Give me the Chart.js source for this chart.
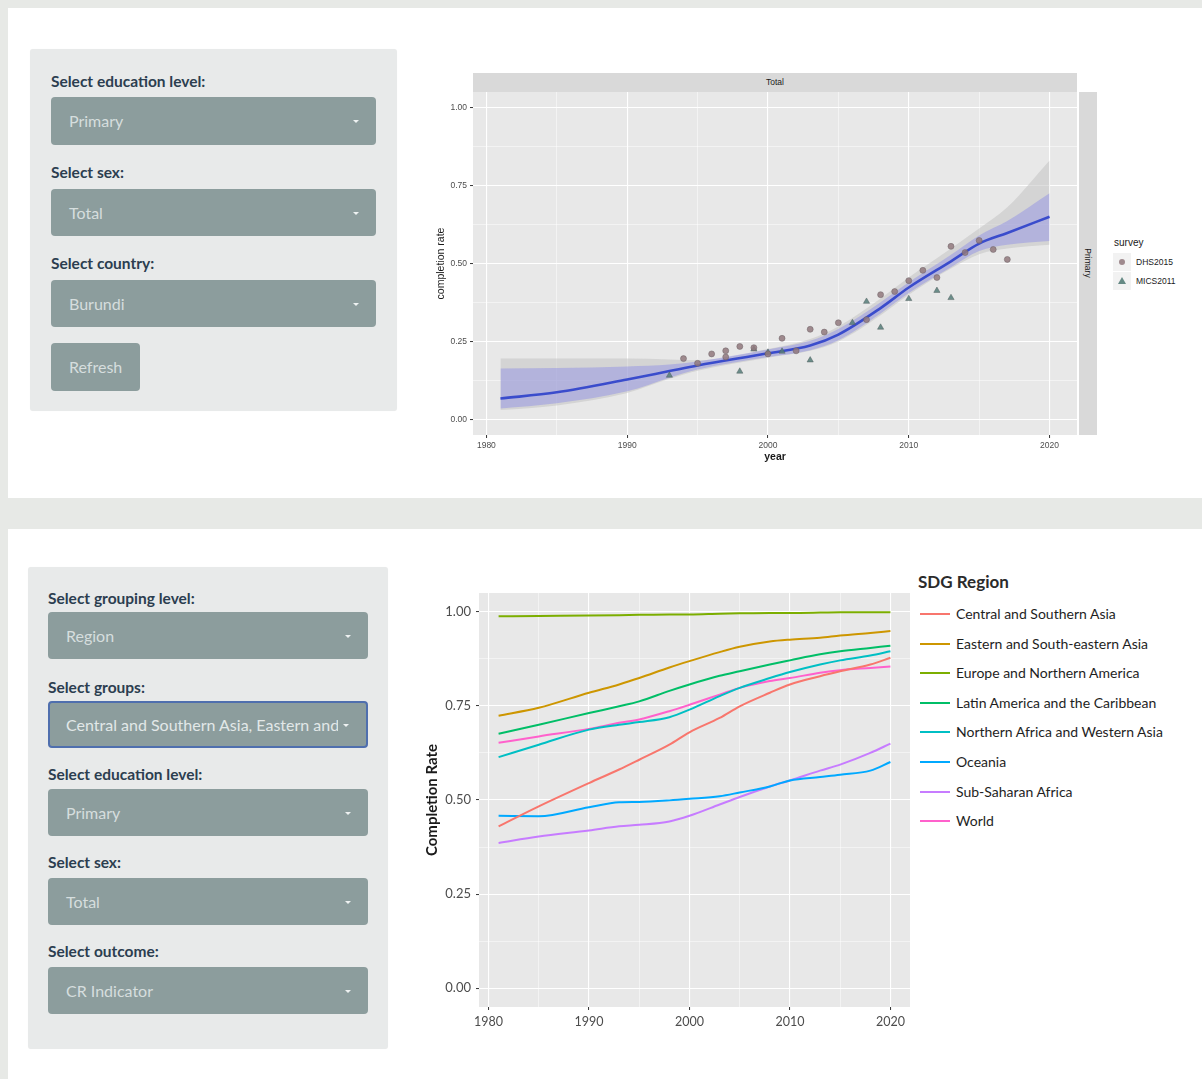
<!DOCTYPE html>
<html><head><meta charset="utf-8">
<script src="https://cdn.jsdelivr.net/npm/chart.js@4.4.1/dist/chart.umd.min.js"></script>
<style>
html,body{margin:0;padding:0;}
body{width:1202px;height:1079px;background:#e7e9e6;position:relative;overflow:hidden;font-family:Lato,"Open Sans",sans-serif;}
.panel{position:absolute;background:#fff;}
.well{position:absolute;background:#e8eaea;border-radius:3px;box-shadow:0 0 1px rgba(0,0,0,0.05);}
.lbl{position:absolute;font-weight:700;font-size:15.5px;color:#2c3e50;letter-spacing:0px;line-height:18px;white-space:nowrap;}
.sel{position:absolute;background:#8c9d9d;border-radius:4px;color:#d6dede;font-size:16px;padding-left:18px;box-sizing:border-box;white-space:nowrap;overflow:hidden;}
.caret{position:absolute;right:17px;top:50%;width:0;height:0;border-left:3px solid transparent;border-right:3px solid transparent;border-top:3px solid #eef2f2;margin-top:-1px;}
.gg{position:absolute;font-family:"Liberation Sans",Arial,sans-serif;color:#1a1a1a;white-space:nowrap;}
canvas{position:absolute;}
</style>
</head>
<body>
<div class="panel" style="left:8px;top:8px;width:1194px;height:490px;"></div>
<div class="panel" style="left:8px;top:529px;width:1194px;height:550px;"></div>

<!-- top controls -->
<div class="well" style="left:30px;top:49px;width:367px;height:362px;"></div>
<div class="lbl" style="left:51px;top:72px;">Select education level:</div>
<div class="sel" style="left:51px;top:97px;width:325px;height:48px;line-height:48px;">Primary<span class="caret"></span></div>
<div class="lbl" style="left:51px;top:163px;">Select sex:</div>
<div class="sel" style="left:51px;top:189px;width:325px;height:47px;line-height:47px;">Total<span class="caret"></span></div>
<div class="lbl" style="left:51px;top:254px;">Select country:</div>
<div class="sel" style="left:51px;top:280px;width:325px;height:47px;line-height:47px;">Burundi<span class="caret"></span></div>
<div class="sel" style="left:51px;top:343px;width:89px;height:48px;line-height:48px;">Refresh</div>

<!-- bottom controls -->
<div class="well" style="left:28px;top:567px;width:360px;height:482px;"></div>
<div class="lbl" style="left:48px;top:589px;">Select grouping level:</div>
<div class="sel" style="left:48px;top:612px;width:320px;height:47px;line-height:47px;">Region<span class="caret"></span></div>
<div class="lbl" style="left:48px;top:678px;">Select groups:</div>
<div class="sel" style="left:48px;top:701px;width:320px;height:47px;line-height:43px;border:2px solid #4f6fae;padding-left:16px;color:#e2e8e8;"><span style="display:inline-block;width:272px;overflow:hidden;vertical-align:top;">Central and Southern Asia, Eastern and South-eastern Asia</span><span class="caret"></span></div>
<div class="lbl" style="left:48px;top:765px;">Select education level:</div>
<div class="sel" style="left:48px;top:789px;width:320px;height:47px;line-height:47px;">Primary<span class="caret"></span></div>
<div class="lbl" style="left:48px;top:853px;">Select sex:</div>
<div class="sel" style="left:48px;top:878px;width:320px;height:47px;line-height:47px;">Total<span class="caret"></span></div>
<div class="lbl" style="left:48px;top:942px;">Select outcome:</div>
<div class="sel" style="left:48px;top:967px;width:320px;height:47px;line-height:47px;">CR Indicator<span class="caret"></span></div>

<!-- top chart facet strips and legend -->
<div class="gg" style="left:473px;top:73px;width:604px;height:19px;background:#d9d9d9;font-size:8.5px;line-height:19px;text-align:center;">Total</div>
<div style="position:absolute;left:1079px;top:92px;width:18px;height:343px;background:#d9d9d9;"></div>
<div class="gg" style="left:1088px;top:263px;font-size:8.5px;transform:translate(-50%,-50%) rotate(90deg);">Primary</div>
<div class="gg" style="left:1114px;top:236px;font-size:10px;line-height:14px;">survey</div>
<div id="topLegend"></div>

<canvas id="topChart" width="659" height="380" style="left:420px;top:92px;"></canvas>

<!-- bottom legend -->
<div class="gg" style="left:918px;top:572px;font-family:Lato,sans-serif;font-size:17px;font-weight:700;color:#2b2b2b;line-height:20px;">SDG Region</div>
<div id="botLegend"></div>

<canvas id="botChart" width="491" height="451" style="left:420px;top:593px;"></canvas>

<script>
// ---------- top chart data (Burundi, primary completion) ----------
const smoothYears = [1981,1985,1990,1993,1995,2000,2003,2005,2008,2010,2013,2015,2017,2020];
const smoothFit   = [0.067,0.087,0.128,0.155,0.173,0.212,0.237,0.272,0.357,0.423,0.507,0.564,0.598,0.65];
const blueUpper   = [0.163,0.165,0.170,0.176,0.186,0.224,0.252,0.290,0.376,0.440,0.528,0.590,0.636,0.725];
const blueLower   = [0.035,0.052,0.090,0.134,0.160,0.200,0.222,0.254,0.340,0.405,0.488,0.540,0.560,0.572];
const greyUpper   = [0.195,0.195,0.195,0.192,0.190,0.226,0.258,0.298,0.388,0.455,0.548,0.612,0.680,0.830];
const greyLower   = [0.030,0.045,0.085,0.130,0.156,0.198,0.220,0.250,0.334,0.400,0.484,0.530,0.548,0.560];

const dhsYears = [1994,1995,1996,1997,1997,1998,1999,2000,2001,2002,2003,2004,2005,2007,2008,2009,2010,2011,2012,2013,2014,2015,2016,2017];
const dhsRate  = [0.195,0.180,0.210,0.220,0.200,0.234,0.230,0.210,0.260,0.220,0.289,0.280,0.310,0.320,0.400,0.410,0.445,0.478,0.455,0.555,0.535,0.574,0.545,0.513];
const micsYears = [1993,1998,1999,2000,2001,2003,2006,2007,2008,2010,2012,2013];
const micsRate  = [0.141,0.154,0.225,0.215,0.218,0.190,0.310,0.378,0.295,0.387,0.413,0.390];

const surveyNames = ['DHS2015','MICS2011'];

// ---------- bottom chart data (SDG regions) ----------
const regionYears = [1981,1985,1990,1993,1995,1998,2000,2003,2005,2008,2010,2013,2015,2018,2020];
const regionNames = ['Central and Southern Asia','Eastern and South-eastern Asia','Europe and Northern America','Latin America and the Caribbean','Northern Africa and Western Asia','Oceania','Sub-Saharan Africa','World'];
const centralSouthernAsia = [0.430,0.483,0.545,0.581,0.607,0.647,0.680,0.718,0.749,0.785,0.807,0.829,0.842,0.860,0.878];
const easternSEAsia       = [0.724,0.745,0.785,0.807,0.824,0.852,0.869,0.893,0.907,0.921,0.926,0.931,0.937,0.944,0.949];
const europeNAmerica      = [0.988,0.989,0.990,0.991,0.992,0.993,0.993,0.995,0.996,0.997,0.997,0.998,0.999,0.999,0.999];
const latinAmerica        = [0.676,0.700,0.731,0.749,0.762,0.790,0.807,0.830,0.842,0.860,0.871,0.887,0.895,0.904,0.910];
const nAfricaWAsia        = [0.614,0.647,0.687,0.700,0.707,0.720,0.740,0.776,0.798,0.824,0.840,0.860,0.871,0.884,0.895];
const oceania             = [0.458,0.457,0.481,0.494,0.495,0.499,0.503,0.510,0.520,0.536,0.552,0.561,0.567,0.578,0.601];
const subSaharanAfrica    = [0.386,0.403,0.419,0.430,0.434,0.443,0.458,0.488,0.508,0.536,0.552,0.578,0.594,0.625,0.650];
const world               = [0.652,0.669,0.689,0.705,0.714,0.736,0.753,0.780,0.798,0.816,0.824,0.838,0.845,0.851,0.855];
const regionSeries = [centralSouthernAsia,easternSEAsia,europeNAmerica,latinAmerica,nAfricaWAsia,oceania,subSaharanAfrica,world];
const regionColors = ['#F8766D','#CD9600','#7CAE00','#00BE67','#00BFC4','#00A9FF','#C77CFF','#FF61CC'];

// ---------- ticks ----------
const xMajorTicks = [1980,1990,2000,2010,2020];
const xMinorTicks = [1985,1995,2005,2015];
const yMajorTicks = [0,0.25,0.5,0.75,1];
const yMinorTicks = [0.125,0.375,0.625,0.875];

// ---------- helpers ----------
const pts = (xs, ys) => xs.map((x,i)=>({x:x,y:ys[i]}));
const isMajor = (v, majors) => majors.some(m => Math.abs(m - v) < 1e-9);
const panelBg = {
  id:'panelBg',
  beforeDraw(chart, args, opts){
    const {ctx, chartArea:a} = chart;
    ctx.save(); ctx.fillStyle = opts.color;
    ctx.fillRect(a.left, a.top, a.right-a.left, a.bottom-a.top);
    ctx.restore();
  }
};
function axis(majors, minors, min, max, o){
  return {
    type:'linear', min:min, max:max,
    afterBuildTicks: s => { s.ticks = majors.concat(minors).sort((a,b)=>a-b).map(v=>({value:v})); },
    afterFit: s => {
      if (o.width!==undefined) s.width = o.width;
      if (o.height!==undefined) s.height = o.height;
      s.paddingTop = 0; s.paddingBottom = 0; s.paddingLeft = 0; s.paddingRight = 0;
    },
    border:{display:false},
    grid:{
      color:'#ffffff',
      lineWidth: c => isMajor(c.tick.value, majors) ? o.major : o.minor,
      drawTicks:true, tickLength:3,
      tickColor: c => isMajor(c.tick.value, majors) ? '#333333' : 'rgba(0,0,0,0)',
      tickWidth:1
    },
    ticks:{
      autoSkip:false, maxRotation:0, padding:o.pad,
      color:o.tickColor, font:o.tickFont,
      callback: v => isMajor(v, majors) ? (o.fmt ? o.fmt(v) : String(v)) : ''
    },
    title:o.title
  };
}

// ---------- top chart ----------
const ggFont = '"Liberation Sans", Arial, sans-serif';
new Chart(document.getElementById('topChart'), {
  type:'scatter',
  data:{datasets:[
    {label:'DHS2015', data:pts(dhsYears,dhsRate), pointStyle:'circle', pointRadius:3, backgroundColor:'rgba(145,120,124,0.85)', borderColor:'rgba(105,95,98,0.8)', borderWidth:0.6, order:0},
    {label:'MICS2011', data:pts(micsYears,micsRate), pointStyle:'triangle', pointRadius:3.6, backgroundColor:'rgba(85,125,120,0.85)', borderColor:'rgba(80,95,95,0.8)', borderWidth:0.6, order:0},
    {label:'fit', type:'line', data:pts(smoothYears,smoothFit), borderColor:'#3a4ccc', borderWidth:2.6, pointRadius:0, cubicInterpolationMode:'monotone', fill:false, order:1},
    {label:'bandHi', type:'line', data:pts(smoothYears,blueUpper), borderWidth:0, pointRadius:0, cubicInterpolationMode:'monotone', fill:'+1', backgroundColor:'rgba(110,110,235,0.32)', order:2},
    {label:'bandLo', type:'line', data:pts(smoothYears,blueLower), borderWidth:0, pointRadius:0, cubicInterpolationMode:'monotone', fill:false, order:2},
    {label:'seHi', type:'line', data:pts(smoothYears,greyUpper), borderWidth:0, pointRadius:0, cubicInterpolationMode:'monotone', fill:'+1', backgroundColor:'rgba(195,195,195,0.55)', order:3},
    {label:'seLo', type:'line', data:pts(smoothYears,greyLower), borderWidth:0, pointRadius:0, cubicInterpolationMode:'monotone', fill:false, order:3}
  ]},
  options:{
    responsive:false, animation:false, devicePixelRatio:1,
    layout:{autoPadding:false, padding:{top:0,right:2,left:0,bottom:0}},
    plugins:{legend:{display:false}, tooltip:{enabled:false}, panelBg:{color:'#e8e8e8'}},
    scales:{
      x: axis(xMajorTicks, xMinorTicks, 1979.05, 2021.95, {height:37, major:1.1, minor:0.5, pad:3, tickColor:'#4d4d4d', tickFont:{family:ggFont,size:8.5}, title:{display:true,text:'year',color:'#1a1a1a',font:{family:ggFont,size:10.5,weight:'bold'},padding:{top:0,bottom:9}}}),
      y: axis(yMajorTicks, yMinorTicks, -0.05, 1.05, {width:53, major:1.1, minor:0.5, pad:3, tickColor:'#4d4d4d', tickFont:{family:ggFont,size:8.5}, fmt:v=>v.toFixed(2), title:{display:true,text:'completion rate',color:'#1a1a1a',font:{family:ggFont,size:10.5},padding:{top:15,bottom:0}}})
    }
  },
  plugins:[panelBg]
});

// top legend keys (HTML)
(function(){
  const host = document.getElementById('topLegend');
  const ys = [262,281];
  surveyNames.forEach((n,i)=>{
    const key = document.createElement('div');
    key.style.cssText = 'position:absolute;left:1113px;top:'+(ys[i]-9)+'px;width:18px;height:18px;background:#f2f2f2;';
    const sym = document.createElement('div');
    if (i===0) sym.style.cssText = 'position:absolute;left:6px;top:6px;width:6px;height:6px;border-radius:50%;background:rgba(145,120,124,0.85);';
    else sym.style.cssText = 'position:absolute;left:5px;top:5px;width:0;height:0;border-left:4px solid transparent;border-right:4px solid transparent;border-bottom:7px solid rgba(85,125,120,0.9);';
    key.appendChild(sym); host.appendChild(key);
    const t = document.createElement('div');
    t.className='gg'; t.textContent=n;
    t.style.cssText += 'left:1136px;top:'+(ys[i]-6)+'px;font-size:8.5px;line-height:12px;';
    host.appendChild(t);
  });
})();

// ---------- bottom chart ----------
const latoFont = 'Lato, "Open Sans", sans-serif';
new Chart(document.getElementById('botChart'), {
  type:'line',
  data:{datasets: regionNames.map((n,i)=>({
    label:n, data:pts(regionYears, regionSeries[i]), borderColor:regionColors[i], backgroundColor:regionColors[i],
    borderWidth:2, pointRadius:0, cubicInterpolationMode:'monotone', fill:false
  }))},
  options:{
    responsive:false, animation:false, devicePixelRatio:1,
    layout:{autoPadding:false, padding:{top:0,right:1,left:0,bottom:0}},
    plugins:{legend:{display:false}, tooltip:{enabled:false}, panelBg:{color:'#e8e8e8'}},
    scales:{
      x: axis(xMajorTicks, xMinorTicks, 1979.05, 2021.95, {height:37, major:1.1, minor:0.5, pad:4, tickColor:'#4d4d4d', tickFont:{family:latoFont,size:12.5}, title:{display:false}}),
      y: axis(yMajorTicks, yMinorTicks, -0.05, 1.05, {width:59, major:1.1, minor:0.5, pad:5, tickColor:'#4d4d4d', tickFont:{family:latoFont,size:13}, fmt:v=>v.toFixed(2), title:{display:true,text:'Completion Rate',color:'#1a1a1a',font:{family:latoFont,size:15,weight:'bold'},padding:{top:3,bottom:0}}})
    }
  },
  plugins:[panelBg]
});

// bottom legend (HTML)
(function(){
  const host = document.getElementById('botLegend');
  regionNames.forEach((n,i)=>{
    const cy = 614 + i*29.6;
    const ln = document.createElement('div');
    ln.style.cssText = 'position:absolute;left:920px;top:'+(cy-1)+'px;width:30px;height:2px;background:'+regionColors[i]+';';
    host.appendChild(ln);
    const t = document.createElement('div');
    t.className='gg'; t.textContent=n;
    t.style.cssText += 'left:956px;top:'+(cy-9)+'px;font-family:Lato,sans-serif;font-size:14px;line-height:18px;color:#1e1e1e;';
    host.appendChild(t);
  });
})();
</script>
</body></html>
